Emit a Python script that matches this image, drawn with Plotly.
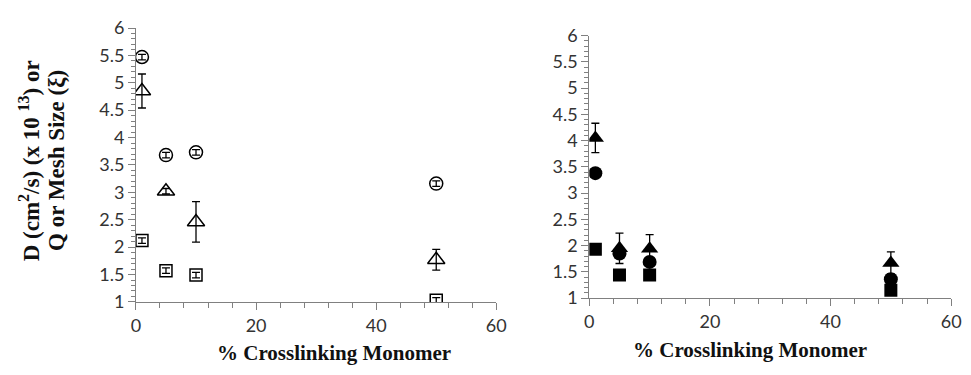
import plotly.graph_objects as go

# % crosslinking monomer
crosslink = [1, 5, 10, 50]

# Left panel (open symbols)
circle_open_y = [5.47, 3.68, 3.73, 3.16]
circle_open_err = [0.05, 0.05, 0.05, 0.05]
triangle_open_y = [4.85, 3.02, 2.46, 1.77]
triangle_open_err = [0.31, 0.05, 0.37, 0.19]
square_open_y = [2.12, 1.57, 1.49, 1.03]
square_open_err = [0.05, 0.05, 0.05, 0.05]

# Right panel (filled symbols)
triangle_fill_y = [4.05, 1.95, 1.94, 1.67]
triangle_fill_err = [0.28, 0.29, 0.27, 0.21]
circle_fill_y = [3.38, 1.85, 1.69, 1.36]
square_fill_y = [1.93, 1.44, 1.44, 1.15]

x_ticks = [0, 20, 40, 60]
y_ticks = [1, 1.5, 2, 2.5, 3, 3.5, 4, 4.5, 5, 5.5, 6]
y_tick_text = ["1", "1.5", "2", "2.5", "3", "3.5", "4", "4.5", "5", "5.5", "6"]
x_minor_step = 4
y_minor_step = 0.1

x_title = "<b>% Crosslinking Monomer</b>"
y_title_lines = ["<b>D (cm<sup>2</sup>/s) (x 10 <sup>13</sup>) or</b>", "<b>Q or Mesh Size (ξ)</b>"]

W, H = 971, 375
TICK_FONT = dict(family="Lato, Noto Sans, sans-serif", size=18, color="#333333")
XTITLE_FONT = dict(family="Liberation Serif, Times New Roman, serif", size=21, color="#111111")
YTITLE_FONT = dict(family="Liberation Serif, Times New Roman, serif", size=23, color="#111111")
AXIS_COLOR = "#808080"


def err(vals):
    return dict(type="data", array=vals, visible=True, color="black", thickness=1.3, width=4)


fig = go.Figure()

# ---- left panel ----
fig.add_trace(go.Scatter(
    x=crosslink, y=circle_open_y, mode="markers", xaxis="x", yaxis="y",
    error_y=err(circle_open_err),
    marker=dict(symbol="circle-open", size=13, color="black", line=dict(width=1.5, color="black")),
))
fig.add_trace(go.Scatter(
    x=crosslink, y=triangle_open_y, mode="markers", xaxis="x", yaxis="y",
    error_y=err(triangle_open_err),
    marker=dict(symbol="triangle-up-open", size=15, color="black", line=dict(width=1.5, color="black")),
))
fig.add_trace(go.Scatter(
    x=crosslink, y=square_open_y, mode="markers", xaxis="x", yaxis="y",
    error_y=err(square_open_err),
    marker=dict(symbol="square-open", size=12, color="black", line=dict(width=1.5, color="black")),
))

# ---- right panel ----
fig.add_trace(go.Scatter(
    x=crosslink, y=triangle_fill_y, mode="markers", xaxis="x2", yaxis="y2",
    error_y=err(triangle_fill_err),
    marker=dict(symbol="triangle-up", size=15, color="black"),
))
fig.add_trace(go.Scatter(
    x=crosslink, y=circle_fill_y, mode="markers", xaxis="x2", yaxis="y2",
    marker=dict(symbol="circle", size=14, color="black"),
))
fig.add_trace(go.Scatter(
    x=crosslink, y=square_fill_y, mode="markers", xaxis="x2", yaxis="y2",
    marker=dict(symbol="square", size=13, color="black"),
))


def xaxis_cfg(domain, anchor):
    return dict(
        domain=domain, anchor=anchor, range=[x_ticks[0], x_ticks[-1]],
        tickmode="linear", tick0=x_ticks[0], dtick=x_ticks[1] - x_ticks[0],
        ticks="outside", ticklen=7, tickcolor=AXIS_COLOR, tickwidth=1,
        minor=dict(dtick=x_minor_step, ticks="outside", ticklen=5,
                   tickcolor=AXIS_COLOR, tickwidth=1),
        showline=True, linecolor=AXIS_COLOR, linewidth=1,
        showgrid=False, zeroline=False, tickfont=TICK_FONT,
    )


def yaxis_cfg(domain, anchor):
    return dict(
        domain=domain, anchor=anchor, range=[y_ticks[0], y_ticks[-1]],
        tickmode="array", tickvals=y_ticks, ticktext=y_tick_text,
        ticks="outside", ticklen=7, tickcolor=AXIS_COLOR, tickwidth=1,
        minor=dict(dtick=y_minor_step, ticks="outside", ticklen=4,
                   tickcolor=AXIS_COLOR, tickwidth=1),
        showline=True, linecolor=AXIS_COLOR, linewidth=1,
        showgrid=False, zeroline=False, tickfont=TICK_FONT,
    )


fig.update_layout(
    width=W, height=H,
    margin=dict(l=0, r=0, t=0, b=0),
    paper_bgcolor="white", plot_bgcolor="white",
    showlegend=False,
    xaxis=xaxis_cfg([133 / W, 499 / W], "y"),
    yaxis=yaxis_cfg([(H - 308) / H, (H - 17) / H], "x"),
    xaxis2=xaxis_cfg([593.5 / W, 961 / W], "y2"),
    yaxis2=yaxis_cfg([(H - 304) / H, (H - 25) / H], "x2"),
)

# x-axis titles
fig.add_annotation(
    x=334 / W, y=(H - 362) / H, xref="paper", yref="paper",
    text=x_title, showarrow=False, font=XTITLE_FONT,
    xanchor="center", yanchor="middle",
)
fig.add_annotation(
    x=757 / W, y=(H - 359) / H, xref="paper", yref="paper",
    text=x_title, showarrow=False, font=XTITLE_FONT,
    xanchor="center", yanchor="middle",
)
# y-axis title, two rotated lines
for line_text, x_px in zip(y_title_lines, [25, 53]):
    fig.add_annotation(
        x=x_px / W, y=(H - 158) / H, xref="paper", yref="paper",
        text=line_text, showarrow=False, font=YTITLE_FONT, textangle=-90,
        xanchor="center", yanchor="middle",
    )

fig.write_html("out.html")
